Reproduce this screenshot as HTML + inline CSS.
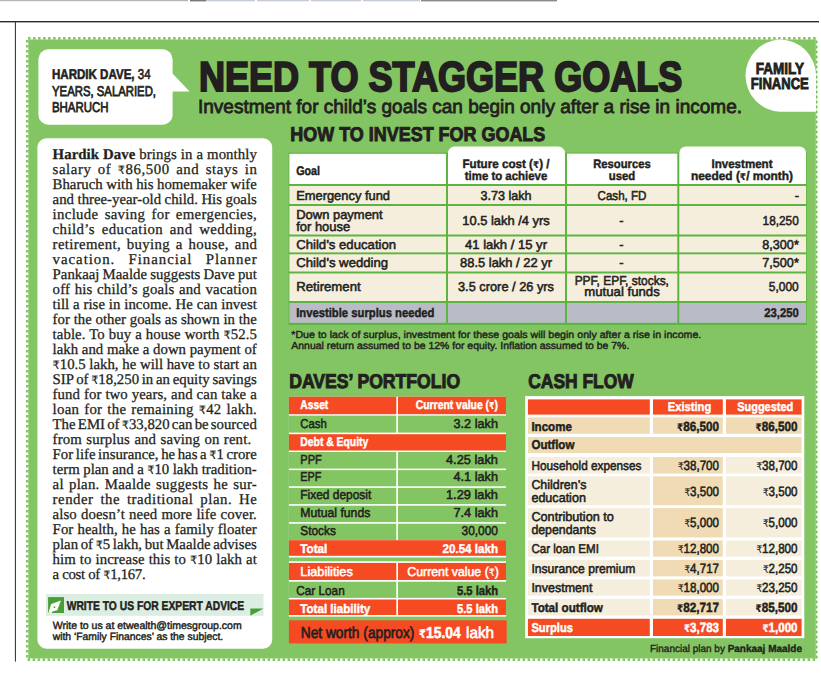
<!DOCTYPE html>
<html lang="en">
<head>
<meta charset="utf-8">
<title>Need to stagger goals</title>
<style>
html,body{margin:0;padding:0;background:#fff;}
body{width:821px;height:674px;overflow:hidden;}
svg{display:block;position:absolute;left:0;top:0;}
.ss{font-family:"Liberation Sans","DejaVu Sans",sans-serif;}
.sf{font-family:"Liberation Serif","DejaVu Serif",serif;}
.r{font-family:"DejaVu Sans",sans-serif;font-size:0.76em;stroke-width:0.15px;}
text{white-space:pre;}
</style>
</head>
<body>
<svg width="821" height="674" viewBox="0 0 821 674" text-rendering="geometricPrecision">
<rect x="0.00" y="0.00" width="188.00" height="1.20" fill="#b5b5b5"/>
<rect x="190.00" y="0.00" width="16.00" height="1.40" fill="#77777c"/>
<rect x="206.00" y="0.00" width="49.00" height="1.30" fill="#c3cad4"/>
<rect x="257.00" y="0.00" width="52.00" height="1.30" fill="#c3cad4"/>
<rect x="311.00" y="0.00" width="50.00" height="1.30" fill="#c3cad4"/>
<rect x="363.00" y="0.00" width="57.00" height="1.30" fill="#c3cad4"/>
<rect x="421.00" y="0.00" width="136.00" height="1.40" fill="#8a8a8a"/>
<rect x="0.00" y="21.00" width="819.00" height="1.40" fill="#2e282b"/>
<rect x="14.90" y="21.00" width="1.00" height="640.60" fill="#2e282b"/>
<path d="M815.6 38.3 H27.3 V659.7 H815.6" fill="none" stroke="#84C563" stroke-width="2.7" stroke-dasharray="2.5 2.5"/>
<path d="M815.4 39.5 L818.1 37.0 L815.8 39.5 L818.1 42.0 L815.8 44.5 L818.1 47.0 L815.8 49.5 L818.1 52.0 L815.8 54.5 L818.1 57.0 L815.8 59.5 L818.1 62.0 L815.8 64.5 L818.1 67.0 L815.8 69.5 L818.1 72.0 L815.8 74.5 L818.1 77.0 L815.8 79.5 L818.1 82.0 L815.8 84.5 L818.1 87.0 L815.8 89.5 L818.1 92.0 L815.8 94.5 L818.1 97.0 L815.8 99.5 L818.1 102.0 L815.8 104.5 L818.1 107.0 L815.8 109.5 L818.1 112.0 L815.8 114.5 L818.1 117.0 L815.8 119.5 L818.1 122.0 L815.8 124.5 L818.1 127.0 L815.8 129.5 L818.1 132.0 L815.8 134.5 L818.1 137.0 L815.8 139.5 L818.1 142.0 L815.8 144.5 L818.1 147.0 L815.8 149.5 L818.1 152.0 L815.8 154.5 L818.1 157.0 L815.8 159.5 L818.1 162.0 L815.8 164.5 L818.1 167.0 L815.8 169.5 L818.1 172.0 L815.8 174.5 L818.1 177.0 L815.8 179.5 L818.1 182.0 L815.8 184.5 L818.1 187.0 L815.8 189.5 L818.1 192.0 L815.8 194.5 L818.1 197.0 L815.8 199.5 L818.1 202.0 L815.8 204.5 L818.1 207.0 L815.8 209.5 L818.1 212.0 L815.8 214.5 L818.1 217.0 L815.8 219.5 L818.1 222.0 L815.8 224.5 L818.1 227.0 L815.8 229.5 L818.1 232.0 L815.8 234.5 L818.1 237.0 L815.8 239.5 L818.1 242.0 L815.8 244.5 L818.1 247.0 L815.8 249.5 L818.1 252.0 L815.8 254.5 L818.1 257.0 L815.8 259.5 L818.1 262.0 L815.8 264.5 L818.1 267.0 L815.8 269.5 L818.1 272.0 L815.8 274.5 L818.1 277.0 L815.8 279.5 L818.1 282.0 L815.8 284.5 L818.1 287.0 L815.8 289.5 L818.1 292.0 L815.8 294.5 L818.1 297.0 L815.8 299.5 L818.1 302.0 L815.8 304.5 L818.1 307.0 L815.8 309.5 L818.1 312.0 L815.8 314.5 L818.1 317.0 L815.8 319.5 L818.1 322.0 L815.8 324.5 L818.1 327.0 L815.8 329.5 L818.1 332.0 L815.8 334.5 L818.1 337.0 L815.8 339.5 L818.1 342.0 L815.8 344.5 L818.1 347.0 L815.8 349.5 L818.1 352.0 L815.8 354.5 L818.1 357.0 L815.8 359.5 L818.1 362.0 L815.8 364.5 L818.1 367.0 L815.8 369.5 L818.1 372.0 L815.8 374.5 L818.1 377.0 L815.8 379.5 L818.1 382.0 L815.8 384.5 L818.1 387.0 L815.8 389.5 L818.1 392.0 L815.8 394.5 L818.1 397.0 L815.8 399.5 L818.1 402.0 L815.8 404.5 L818.1 407.0 L815.8 409.5 L818.1 412.0 L815.8 414.5 L818.1 417.0 L815.8 419.5 L818.1 422.0 L815.8 424.5 L818.1 427.0 L815.8 429.5 L818.1 432.0 L815.8 434.5 L818.1 437.0 L815.8 439.5 L818.1 442.0 L815.8 444.5 L818.1 447.0 L815.8 449.5 L818.1 452.0 L815.8 454.5 L818.1 457.0 L815.8 459.5 L818.1 462.0 L815.8 464.5 L818.1 467.0 L815.8 469.5 L818.1 472.0 L815.8 474.5 L818.1 477.0 L815.8 479.5 L818.1 482.0 L815.8 484.5 L818.1 487.0 L815.8 489.5 L818.1 492.0 L815.8 494.5 L818.1 497.0 L815.8 499.5 L818.1 502.0 L815.8 504.5 L818.1 507.0 L815.8 509.5 L818.1 512.0 L815.8 514.5 L818.1 517.0 L815.8 519.5 L818.1 522.0 L815.8 524.5 L818.1 527.0 L815.8 529.5 L818.1 532.0 L815.8 534.5 L818.1 537.0 L815.8 539.5 L818.1 542.0 L815.8 544.5 L818.1 547.0 L815.8 549.5 L818.1 552.0 L815.8 554.5 L818.1 557.0 L815.8 559.5 L818.1 562.0 L815.8 564.5 L818.1 567.0 L815.8 569.5 L818.1 572.0 L815.8 574.5 L818.1 577.0 L815.8 579.5 L818.1 582.0 L815.8 584.5 L818.1 587.0 L815.8 589.5 L818.1 592.0 L815.8 594.5 L818.1 597.0 L815.8 599.5 L818.1 602.0 L815.8 604.5 L818.1 607.0 L815.8 609.5 L818.1 612.0 L815.8 614.5 L818.1 617.0 L815.8 619.5 L818.1 622.0 L815.8 624.5 L818.1 627.0 L815.8 629.5 L818.1 632.0 L815.8 634.5 L818.1 637.0 L815.8 639.5 L818.1 642.0 L815.8 644.5 L818.1 647.0 L815.8 649.5 L818.1 652.0 L815.8 654.5 L818.1 657.0 L815.8 659.5 L815.4 658.4 Z" fill="#84C563"/>
<rect x="28.40" y="39.50" width="787.20" height="618.90" fill="#84C563"/>
<rect x="38.40" y="49.30" width="134.20" height="75.50" fill="#fff" rx="10"/>
<path d="M172 73 L189.6 91.6 L172 91.6 Z" fill="#fff"/>
<text class="ss" x="52.00" y="79.00" font-size="14.2" text-anchor="start" textLength="98.60" lengthAdjust="spacingAndGlyphs" stroke-width="0.60"><tspan fill="#231f20" stroke="#231f20" font-weight="bold">HARDIK DAVE,</tspan><tspan fill="#231f20" stroke="#231f20" font-weight="normal"> 34</tspan></text>
<text class="ss" x="52.00" y="95.50" font-size="14.2" text-anchor="start" fill="#231f20" textLength="104.00" lengthAdjust="spacingAndGlyphs" stroke="#231f20" stroke-width="0.75">YEARS, SALARIED,</text>
<text class="ss" x="52.00" y="112.00" font-size="14.2" text-anchor="start" fill="#231f20" textLength="56.50" lengthAdjust="spacingAndGlyphs" stroke="#231f20" stroke-width="0.75">BHARUCH</text>
<text class="ss" x="198.90" y="91.20" font-size="41.9" text-anchor="start" fill="#231f20" font-weight="bold" textLength="483.50" lengthAdjust="spacingAndGlyphs" stroke="#231f20" stroke-width="2.00">NEED TO STAGGER GOALS</text>
<text class="ss" x="198.00" y="113.00" font-size="19.1" text-anchor="start" fill="#231f20" textLength="544.00" lengthAdjust="spacingAndGlyphs" stroke="#231f20" stroke-width="0.80">Investment for child’s goals can begin only after a rise in income.</text>
<path d="M779.8 39.4 A36.2 36.2 0 0 1 816 75.6 L816 111.7 L779.8 111.7 A36.2 36.2 0 0 1 779.8 39.4 Z" fill="#fff"/>
<text class="ss" x="779.80" y="73.60" font-size="16.0" text-anchor="middle" fill="#231f20" font-weight="bold" textLength="48.20" lengthAdjust="spacingAndGlyphs" stroke="#231f20" stroke-width="0.85">FAMILY</text>
<text class="ss" x="779.80" y="88.50" font-size="16.0" text-anchor="middle" fill="#231f20" font-weight="bold" textLength="58.00" lengthAdjust="spacingAndGlyphs" stroke="#231f20" stroke-width="0.85">FINANCE</text>
<text class="ss" x="290.30" y="141.00" font-size="19.9" text-anchor="start" fill="#231f20" font-weight="bold" textLength="255.00" lengthAdjust="spacingAndGlyphs" stroke="#231f20" stroke-width="0.95">HOW TO INVEST FOR GOALS</text>
<rect x="288.60" y="152.60" width="518.20" height="172.40" fill="#5CB540"/>
<rect x="289.40" y="153.80" width="156.60" height="30.20" fill="#fff"/>
<path d="M448 184 V153.2 a6.6 6.6 0 0 1 6.6 -6.6 H558.4 a6.6 6.6 0 0 1 6.6 6.6 V184 Z" fill="#fff"/>
<rect x="567.00" y="153.60" width="110.30" height="30.40" fill="#fff"/>
<path d="M679.3 184 V153 a6.6 6.6 0 0 1 6.6 -6.6 H799.4 a6.6 6.6 0 0 1 6.6 6.6 V184 Z" fill="#fff"/>
<rect x="289.40" y="186.00" width="156.60" height="18.00" fill="#F5EEDD"/>
<rect x="448.00" y="186.00" width="117.00" height="18.00" fill="#F5EEDD"/>
<rect x="567.00" y="186.00" width="110.30" height="18.00" fill="#F5EEDD"/>
<rect x="679.30" y="186.00" width="126.70" height="18.00" fill="#F5EEDD"/>
<rect x="289.40" y="206.00" width="156.60" height="28.50" fill="#F5EEDD"/>
<rect x="448.00" y="206.00" width="117.00" height="28.50" fill="#F5EEDD"/>
<rect x="567.00" y="206.00" width="110.30" height="28.50" fill="#F5EEDD"/>
<rect x="679.30" y="206.00" width="126.70" height="28.50" fill="#F5EEDD"/>
<rect x="289.40" y="236.50" width="156.60" height="15.90" fill="#F5EEDD"/>
<rect x="448.00" y="236.50" width="117.00" height="15.90" fill="#F5EEDD"/>
<rect x="567.00" y="236.50" width="110.30" height="15.90" fill="#F5EEDD"/>
<rect x="679.30" y="236.50" width="126.70" height="15.90" fill="#F5EEDD"/>
<rect x="289.40" y="254.30" width="156.60" height="17.20" fill="#F5EEDD"/>
<rect x="448.00" y="254.30" width="117.00" height="17.20" fill="#F5EEDD"/>
<rect x="567.00" y="254.30" width="110.30" height="17.20" fill="#F5EEDD"/>
<rect x="679.30" y="254.30" width="126.70" height="17.20" fill="#F5EEDD"/>
<rect x="289.40" y="273.50" width="156.60" height="27.50" fill="#F5EEDD"/>
<rect x="448.00" y="273.50" width="117.00" height="27.50" fill="#F5EEDD"/>
<rect x="567.00" y="273.50" width="110.30" height="27.50" fill="#F5EEDD"/>
<rect x="679.30" y="273.50" width="126.70" height="27.50" fill="#F5EEDD"/>
<rect x="289.40" y="303.00" width="156.60" height="19.80" fill="#B9BCC6"/>
<rect x="448.00" y="303.00" width="117.00" height="19.80" fill="#B9BCC6"/>
<rect x="567.00" y="303.00" width="110.30" height="19.80" fill="#B9BCC6"/>
<rect x="679.30" y="303.00" width="126.70" height="19.80" fill="#B9BCC6"/>
<text class="ss" x="296.20" y="174.50" font-size="12.5" text-anchor="start" fill="#231f20" font-weight="bold" textLength="23.90" lengthAdjust="spacingAndGlyphs" stroke="#231f20" stroke-width="0.45">Goal</text>
<text class="ss" x="506.00" y="168.20" font-size="12.3" text-anchor="middle" fill="#231f20" font-weight="bold" textLength="87.00" lengthAdjust="spacingAndGlyphs" stroke="#231f20" stroke-width="0.44">Future cost (<tspan class="r">₹</tspan>) /</text>
<text class="ss" x="506.00" y="180.00" font-size="12.3" text-anchor="middle" fill="#231f20" font-weight="bold" textLength="82.50" lengthAdjust="spacingAndGlyphs" stroke="#231f20" stroke-width="0.44">time to achieve</text>
<text class="ss" x="622.00" y="168.20" font-size="12.3" text-anchor="middle" fill="#231f20" font-weight="bold" textLength="57.50" lengthAdjust="spacingAndGlyphs" stroke="#231f20" stroke-width="0.44">Resources</text>
<text class="ss" x="622.00" y="180.00" font-size="12.3" text-anchor="middle" fill="#231f20" font-weight="bold" textLength="26.50" lengthAdjust="spacingAndGlyphs" stroke="#231f20" stroke-width="0.44">used</text>
<text class="ss" x="742.00" y="168.20" font-size="12.3" text-anchor="middle" fill="#231f20" font-weight="bold" textLength="61.00" lengthAdjust="spacingAndGlyphs" stroke="#231f20" stroke-width="0.44">Investment</text>
<text class="ss" x="742.00" y="180.00" font-size="12.3" text-anchor="middle" fill="#231f20" font-weight="bold" textLength="102.00" lengthAdjust="spacingAndGlyphs" stroke="#231f20" stroke-width="0.44">needed (<tspan class="r">₹</tspan>/ month)</text>
<text class="ss" x="296.20" y="200.30" font-size="12.9" text-anchor="start" fill="#231f20" textLength="93.80" lengthAdjust="spacingAndGlyphs" stroke="#231f20" stroke-width="0.54">Emergency fund</text>
<text class="ss" x="296.20" y="219.00" font-size="12.9" text-anchor="start" fill="#231f20" textLength="86.50" lengthAdjust="spacingAndGlyphs" stroke="#231f20" stroke-width="0.54">Down payment</text>
<text class="ss" x="296.20" y="230.50" font-size="12.9" text-anchor="start" fill="#231f20" textLength="54.00" lengthAdjust="spacingAndGlyphs" stroke="#231f20" stroke-width="0.54">for house</text>
<text class="ss" x="296.20" y="248.70" font-size="12.9" text-anchor="start" fill="#231f20" textLength="99.90" lengthAdjust="spacingAndGlyphs" stroke="#231f20" stroke-width="0.54">Child’s education</text>
<text class="ss" x="296.20" y="267.00" font-size="12.9" text-anchor="start" fill="#231f20" textLength="92.00" lengthAdjust="spacingAndGlyphs" stroke="#231f20" stroke-width="0.54">Child’s wedding</text>
<text class="ss" x="296.20" y="291.30" font-size="12.9" text-anchor="start" fill="#231f20" textLength="64.50" lengthAdjust="spacingAndGlyphs" stroke="#231f20" stroke-width="0.54">Retirement</text>
<text class="ss" x="296.20" y="317.00" font-size="12.6" text-anchor="start" fill="#231f20" font-weight="bold" textLength="138.30" lengthAdjust="spacingAndGlyphs" stroke="#231f20" stroke-width="0.45">Investible surplus needed</text>
<text class="ss" x="506.00" y="200.10" font-size="12.9" text-anchor="middle" fill="#231f20" textLength="51.00" lengthAdjust="spacingAndGlyphs" stroke="#231f20" stroke-width="0.54">3.73 lakh</text>
<text class="ss" x="506.00" y="225.10" font-size="12.9" text-anchor="middle" fill="#231f20" textLength="87.40" lengthAdjust="spacingAndGlyphs" stroke="#231f20" stroke-width="0.54">10.5 lakh /4 yrs</text>
<text class="ss" x="506.00" y="248.70" font-size="12.9" text-anchor="middle" fill="#231f20" textLength="82.00" lengthAdjust="spacingAndGlyphs" stroke="#231f20" stroke-width="0.54">41 lakh / 15 yr</text>
<text class="ss" x="506.00" y="267.00" font-size="12.9" text-anchor="middle" fill="#231f20" textLength="92.00" lengthAdjust="spacingAndGlyphs" stroke="#231f20" stroke-width="0.54">88.5 lakh / 22 yr</text>
<text class="ss" x="506.00" y="291.40" font-size="12.9" text-anchor="middle" fill="#231f20" textLength="96.00" lengthAdjust="spacingAndGlyphs" stroke="#231f20" stroke-width="0.54">3.5 crore / 26 yrs</text>
<text class="ss" x="622.00" y="200.10" font-size="12.9" text-anchor="middle" fill="#231f20" textLength="49.00" lengthAdjust="spacingAndGlyphs" stroke="#231f20" stroke-width="0.54">Cash, FD</text>
<text class="ss" x="621.30" y="225.10" font-size="12.9" text-anchor="middle" fill="#231f20" stroke="#231f20" stroke-width="0.54">-</text>
<text class="ss" x="621.30" y="248.70" font-size="12.9" text-anchor="middle" fill="#231f20" stroke="#231f20" stroke-width="0.54">-</text>
<text class="ss" x="621.30" y="267.00" font-size="12.9" text-anchor="middle" fill="#231f20" stroke="#231f20" stroke-width="0.54">-</text>
<text class="ss" x="621.80" y="285.30" font-size="12.9" text-anchor="middle" fill="#231f20" textLength="94.30" lengthAdjust="spacingAndGlyphs" stroke="#231f20" stroke-width="0.54">PPF, EPF, stocks,</text>
<text class="ss" x="622.00" y="295.80" font-size="12.9" text-anchor="middle" fill="#231f20" textLength="75.50" lengthAdjust="spacingAndGlyphs" stroke="#231f20" stroke-width="0.54">mutual funds</text>
<text class="ss" x="799.00" y="200.10" font-size="12.9" text-anchor="end" fill="#231f20" stroke="#231f20" stroke-width="0.54">-</text>
<text class="ss" x="798.80" y="225.10" font-size="12.9" text-anchor="end" fill="#231f20" textLength="36.20" lengthAdjust="spacingAndGlyphs" stroke="#231f20" stroke-width="0.54">18,250</text>
<text class="ss" x="798.80" y="248.70" font-size="12.9" text-anchor="end" fill="#231f20" textLength="36.50" lengthAdjust="spacingAndGlyphs" stroke="#231f20" stroke-width="0.54">8,300*</text>
<text class="ss" x="798.80" y="267.00" font-size="12.9" text-anchor="end" fill="#231f20" textLength="36.50" lengthAdjust="spacingAndGlyphs" stroke="#231f20" stroke-width="0.54">7,500*</text>
<text class="ss" x="798.80" y="291.40" font-size="12.9" text-anchor="end" fill="#231f20" textLength="30.00" lengthAdjust="spacingAndGlyphs" stroke="#231f20" stroke-width="0.54">5,000</text>
<text class="ss" x="798.80" y="317.00" font-size="12.6" text-anchor="end" fill="#231f20" font-weight="bold" textLength="34.50" lengthAdjust="spacingAndGlyphs" stroke="#231f20" stroke-width="0.45">23,250</text>
<text class="ss" x="291.30" y="338.00" font-size="10.2" text-anchor="start" fill="#231f20" textLength="410.00" lengthAdjust="spacingAndGlyphs" stroke="#231f20" stroke-width="0.43">*Due to lack of surplus, investment for these goals will begin only after a rise in income.</text>
<text class="ss" x="291.30" y="348.60" font-size="10.2" text-anchor="start" fill="#231f20" textLength="338.00" lengthAdjust="spacingAndGlyphs" stroke="#231f20" stroke-width="0.43">Annual return assumed to be 12% for equity. Inflation assumed to be 7%.</text>
<text class="ss" x="289.20" y="387.60" font-size="19.9" text-anchor="start" fill="#231f20" font-weight="bold" textLength="171.00" lengthAdjust="spacingAndGlyphs" stroke="#231f20" stroke-width="0.95">DAVES’ PORTFOLIO</text>
<rect x="288.90" y="396.70" width="217.10" height="160.80" fill="#fff"/>
<rect x="288.90" y="396.70" width="107.40" height="17.50" fill="#F54A22"/>
<rect x="398.00" y="396.70" width="108.00" height="17.50" fill="#F54A22"/>
<rect x="288.90" y="415.60" width="107.40" height="17.00" fill="#84C563"/>
<rect x="398.00" y="415.60" width="108.00" height="17.00" fill="#84C563"/>
<rect x="288.90" y="434.20" width="217.10" height="16.30" fill="#F54A22"/>
<rect x="288.90" y="452.00" width="107.40" height="16.60" fill="#84C563"/>
<rect x="398.00" y="452.00" width="108.00" height="16.60" fill="#84C563"/>
<rect x="288.90" y="470.10" width="107.40" height="16.20" fill="#84C563"/>
<rect x="398.00" y="470.10" width="108.00" height="16.20" fill="#84C563"/>
<rect x="288.90" y="487.90" width="107.40" height="16.20" fill="#84C563"/>
<rect x="398.00" y="487.90" width="108.00" height="16.20" fill="#84C563"/>
<rect x="288.90" y="505.70" width="107.40" height="16.40" fill="#84C563"/>
<rect x="398.00" y="505.70" width="108.00" height="16.40" fill="#84C563"/>
<rect x="288.90" y="523.70" width="107.40" height="16.50" fill="#84C563"/>
<rect x="398.00" y="523.70" width="108.00" height="16.50" fill="#84C563"/>
<rect x="288.90" y="540.20" width="217.10" height="15.60" fill="#F54A22"/>
<rect x="288.90" y="561.30" width="217.10" height="55.30" fill="#fff"/>
<rect x="288.90" y="562.90" width="107.40" height="17.10" fill="#F54A22"/>
<rect x="398.00" y="562.90" width="108.00" height="17.10" fill="#F54A22"/>
<rect x="288.90" y="581.70" width="107.40" height="16.20" fill="#84C563"/>
<rect x="398.00" y="581.70" width="108.00" height="16.20" fill="#84C563"/>
<rect x="288.90" y="599.50" width="107.40" height="15.50" fill="#F54A22"/>
<rect x="398.00" y="599.50" width="108.00" height="15.50" fill="#F54A22"/>
<rect x="288.90" y="620.30" width="217.80" height="23.10" fill="#F54A22"/>
<text class="ss" x="300.30" y="409.30" font-size="12.6" text-anchor="start" fill="#fff" font-weight="bold" textLength="28.00" lengthAdjust="spacingAndGlyphs" stroke="#fff" stroke-width="0.45">Asset</text>
<text class="ss" x="498.00" y="409.30" font-size="12.6" text-anchor="end" fill="#fff" font-weight="bold" textLength="82.30" lengthAdjust="spacingAndGlyphs" stroke="#fff" stroke-width="0.45">Current value (<tspan class="r">₹</tspan>)</text>
<text class="ss" x="300.30" y="427.60" font-size="12.9" text-anchor="start" fill="#231f20" textLength="26.50" lengthAdjust="spacingAndGlyphs" stroke="#231f20" stroke-width="0.54">Cash</text>
<text class="ss" x="498.00" y="427.60" font-size="12.9" text-anchor="end" fill="#231f20" textLength="44.50" lengthAdjust="spacingAndGlyphs" stroke="#231f20" stroke-width="0.54">3.2 lakh</text>
<text class="ss" x="300.30" y="446.30" font-size="12.6" text-anchor="start" fill="#fff" font-weight="bold" textLength="68.00" lengthAdjust="spacingAndGlyphs" stroke="#fff" stroke-width="0.45">Debt &amp; Equity</text>
<text class="ss" x="300.30" y="463.50" font-size="12.9" text-anchor="start" fill="#231f20" textLength="21.50" lengthAdjust="spacingAndGlyphs" stroke="#231f20" stroke-width="0.54">PPF</text>
<text class="ss" x="498.00" y="463.50" font-size="12.9" text-anchor="end" fill="#231f20" textLength="52.00" lengthAdjust="spacingAndGlyphs" stroke="#231f20" stroke-width="0.54">4.25 lakh</text>
<text class="ss" x="300.30" y="481.30" font-size="12.9" text-anchor="start" fill="#231f20" textLength="21.00" lengthAdjust="spacingAndGlyphs" stroke="#231f20" stroke-width="0.54">EPF</text>
<text class="ss" x="498.00" y="481.30" font-size="12.9" text-anchor="end" fill="#231f20" textLength="44.50" lengthAdjust="spacingAndGlyphs" stroke="#231f20" stroke-width="0.54">4.1 lakh</text>
<text class="ss" x="300.30" y="498.90" font-size="12.9" text-anchor="start" fill="#231f20" textLength="71.00" lengthAdjust="spacingAndGlyphs" stroke="#231f20" stroke-width="0.54">Fixed deposit</text>
<text class="ss" x="498.00" y="498.90" font-size="12.9" text-anchor="end" fill="#231f20" textLength="52.00" lengthAdjust="spacingAndGlyphs" stroke="#231f20" stroke-width="0.54">1.29 lakh</text>
<text class="ss" x="300.30" y="517.20" font-size="12.9" text-anchor="start" fill="#231f20" textLength="70.00" lengthAdjust="spacingAndGlyphs" stroke="#231f20" stroke-width="0.54">Mutual funds</text>
<text class="ss" x="498.00" y="517.20" font-size="12.9" text-anchor="end" fill="#231f20" textLength="44.50" lengthAdjust="spacingAndGlyphs" stroke="#231f20" stroke-width="0.54">7.4 lakh</text>
<text class="ss" x="300.30" y="535.00" font-size="12.9" text-anchor="start" fill="#231f20" textLength="35.50" lengthAdjust="spacingAndGlyphs" stroke="#231f20" stroke-width="0.54">Stocks</text>
<text class="ss" x="498.00" y="535.00" font-size="12.9" text-anchor="end" fill="#231f20" textLength="36.50" lengthAdjust="spacingAndGlyphs" stroke="#231f20" stroke-width="0.54">30,000</text>
<text class="ss" x="300.30" y="552.50" font-size="12.6" text-anchor="start" fill="#fff" font-weight="bold" textLength="27.00" lengthAdjust="spacingAndGlyphs" stroke="#fff" stroke-width="0.45">Total</text>
<text class="ss" x="498.00" y="552.50" font-size="12.6" text-anchor="end" fill="#fff" font-weight="bold" textLength="55.50" lengthAdjust="spacingAndGlyphs" stroke="#fff" stroke-width="0.45">20.54 lakh</text>
<text class="ss" x="300.30" y="576.00" font-size="12.9" text-anchor="start" fill="#fff" textLength="52.50" lengthAdjust="spacingAndGlyphs" stroke="#fff" stroke-width="0.54">Liabilities</text>
<text class="ss" x="498.80" y="576.00" font-size="12.9" text-anchor="end" fill="#fff" textLength="91.50" lengthAdjust="spacingAndGlyphs" stroke="#fff" stroke-width="0.54">Current value (<tspan class="r">₹</tspan>)</text>
<text class="ss" x="296.20" y="594.70" font-size="12.9" text-anchor="start" fill="#231f20" textLength="48.50" lengthAdjust="spacingAndGlyphs" stroke="#231f20" stroke-width="0.54">Car Loan</text>
<text class="ss" x="498.00" y="594.70" font-size="12.9" text-anchor="end" fill="#231f20" font-weight="bold" textLength="41.00" lengthAdjust="spacingAndGlyphs" stroke="#231f20" stroke-width="0.46">5.5 lakh</text>
<text class="ss" x="300.30" y="612.50" font-size="12.6" text-anchor="start" fill="#fff" font-weight="bold" textLength="70.00" lengthAdjust="spacingAndGlyphs" stroke="#fff" stroke-width="0.45">Total liability</text>
<text class="ss" x="498.00" y="612.50" font-size="12.6" text-anchor="end" fill="#fff" font-weight="bold" textLength="41.00" lengthAdjust="spacingAndGlyphs" stroke="#fff" stroke-width="0.45">5.5 lakh</text>
<text class="ss" x="300.80" y="638.10" font-size="15.8" text-anchor="start" fill="#231f20" textLength="113.60" lengthAdjust="spacingAndGlyphs" stroke="#231f20" stroke-width="0.66">Net worth (approx)</text>
<text class="ss" x="418.80" y="638.10" font-size="15.8" text-anchor="start" fill="#fff" font-weight="bold" textLength="41.80" lengthAdjust="spacingAndGlyphs" stroke="#fff" stroke-width="0.57"><tspan class="r">₹</tspan>15.04</text>
<text class="ss" x="466.00" y="638.10" font-size="15.8" text-anchor="start" fill="#fff" textLength="28.00" lengthAdjust="spacingAndGlyphs" stroke="#fff" stroke-width="0.66">lakh</text>
<text class="ss" x="528.20" y="387.60" font-size="19.9" text-anchor="start" fill="#231f20" font-weight="bold" textLength="105.60" lengthAdjust="spacingAndGlyphs" stroke="#231f20" stroke-width="0.95">CASH FLOW</text>
<rect x="525.20" y="396.10" width="279.10" height="242.10" fill="#fff"/>
<rect x="527.90" y="399.40" width="121.90" height="15.20" fill="#F54A22"/>
<rect x="653.00" y="399.40" width="69.80" height="15.20" fill="#F54A22"/>
<rect x="726.00" y="399.40" width="75.60" height="15.20" fill="#F54A22"/>
<rect x="527.90" y="417.40" width="121.90" height="16.40" fill="#F0DBB5"/>
<rect x="653.00" y="417.40" width="69.80" height="16.40" fill="#F0DBB5"/>
<rect x="726.00" y="417.40" width="75.60" height="16.40" fill="#F0DBB5"/>
<rect x="527.90" y="437.00" width="273.70" height="16.10" fill="#F0DBB5"/>
<rect x="527.90" y="457.00" width="121.90" height="16.60" fill="#F5EEDD"/>
<rect x="653.00" y="457.00" width="69.80" height="16.60" fill="#F0DBB5"/>
<rect x="726.00" y="457.00" width="75.60" height="16.60" fill="#F5EEDD"/>
<rect x="527.90" y="476.30" width="121.90" height="28.90" fill="#F5EEDD"/>
<rect x="653.00" y="476.30" width="69.80" height="28.90" fill="#F0DBB5"/>
<rect x="726.00" y="476.30" width="75.60" height="28.90" fill="#F5EEDD"/>
<rect x="527.90" y="508.10" width="121.90" height="29.40" fill="#F5EEDD"/>
<rect x="653.00" y="508.10" width="69.80" height="29.40" fill="#F0DBB5"/>
<rect x="726.00" y="508.10" width="75.60" height="29.40" fill="#F5EEDD"/>
<rect x="527.90" y="540.50" width="121.90" height="16.20" fill="#F5EEDD"/>
<rect x="653.00" y="540.50" width="69.80" height="16.20" fill="#F0DBB5"/>
<rect x="726.00" y="540.50" width="75.60" height="16.20" fill="#F5EEDD"/>
<rect x="527.90" y="560.00" width="121.90" height="16.40" fill="#F5EEDD"/>
<rect x="653.00" y="560.00" width="69.80" height="16.40" fill="#F0DBB5"/>
<rect x="726.00" y="560.00" width="75.60" height="16.40" fill="#F5EEDD"/>
<rect x="527.90" y="579.40" width="121.90" height="16.30" fill="#F5EEDD"/>
<rect x="653.00" y="579.40" width="69.80" height="16.30" fill="#F0DBB5"/>
<rect x="726.00" y="579.40" width="75.60" height="16.30" fill="#F5EEDD"/>
<rect x="527.90" y="599.00" width="121.90" height="16.40" fill="#F5EEDD"/>
<rect x="653.00" y="599.00" width="69.80" height="16.40" fill="#F0DBB5"/>
<rect x="726.00" y="599.00" width="75.60" height="16.40" fill="#F5EEDD"/>
<rect x="527.90" y="618.80" width="121.90" height="17.20" fill="#F54A22"/>
<rect x="653.00" y="618.80" width="69.80" height="17.20" fill="#F54A22"/>
<rect x="726.00" y="618.80" width="75.60" height="17.20" fill="#F54A22"/>
<text class="ss" x="689.50" y="411.30" font-size="12.6" text-anchor="middle" fill="#fff" font-weight="bold" textLength="43.50" lengthAdjust="spacingAndGlyphs" stroke="#fff" stroke-width="0.45">Existing</text>
<text class="ss" x="765.20" y="411.30" font-size="12.6" text-anchor="middle" fill="#fff" font-weight="bold" textLength="56.00" lengthAdjust="spacingAndGlyphs" stroke="#fff" stroke-width="0.45">Suggested</text>
<text class="ss" x="531.40" y="431.00" font-size="12.8" text-anchor="start" fill="#231f20" font-weight="bold" textLength="40.50" lengthAdjust="spacingAndGlyphs" stroke="#231f20" stroke-width="0.46">Income</text>
<text class="ss" x="719.00" y="431.00" font-size="13.4" text-anchor="end" fill="#231f20" font-weight="bold" textLength="42.00" lengthAdjust="spacingAndGlyphs" stroke="#231f20" stroke-width="0.48"><tspan class="r">₹</tspan>86,500</text>
<text class="ss" x="797.50" y="431.00" font-size="13.4" text-anchor="end" fill="#231f20" font-weight="bold" textLength="42.00" lengthAdjust="spacingAndGlyphs" stroke="#231f20" stroke-width="0.48"><tspan class="r">₹</tspan>86,500</text>
<text class="ss" x="531.40" y="449.30" font-size="12.8" text-anchor="start" fill="#231f20" font-weight="bold" textLength="43.00" lengthAdjust="spacingAndGlyphs" stroke="#231f20" stroke-width="0.46">Outflow</text>
<text class="ss" x="531.40" y="470.20" font-size="12.8" text-anchor="start" fill="#231f20" textLength="110.00" lengthAdjust="spacingAndGlyphs" stroke="#231f20" stroke-width="0.54">Household expenses</text>
<text class="ss" x="719.00" y="470.20" font-size="13.4" text-anchor="end" fill="#231f20" textLength="41.00" lengthAdjust="spacingAndGlyphs" stroke="#231f20" stroke-width="0.56"><tspan class="r">₹</tspan>38,700</text>
<text class="ss" x="797.50" y="470.20" font-size="13.4" text-anchor="end" fill="#231f20" textLength="41.00" lengthAdjust="spacingAndGlyphs" stroke="#231f20" stroke-width="0.56"><tspan class="r">₹</tspan>38,700</text>
<text class="ss" x="531.40" y="489.00" font-size="12.8" text-anchor="start" fill="#231f20" textLength="55.00" lengthAdjust="spacingAndGlyphs" stroke="#231f20" stroke-width="0.54">Children’s</text>
<text class="ss" x="531.40" y="502.00" font-size="12.8" text-anchor="start" fill="#231f20" textLength="54.50" lengthAdjust="spacingAndGlyphs" stroke="#231f20" stroke-width="0.54">education</text>
<text class="ss" x="719.00" y="495.50" font-size="13.4" text-anchor="end" fill="#231f20" textLength="34.50" lengthAdjust="spacingAndGlyphs" stroke="#231f20" stroke-width="0.56"><tspan class="r">₹</tspan>3,500</text>
<text class="ss" x="797.50" y="495.50" font-size="13.4" text-anchor="end" fill="#231f20" textLength="34.50" lengthAdjust="spacingAndGlyphs" stroke="#231f20" stroke-width="0.56"><tspan class="r">₹</tspan>3,500</text>
<text class="ss" x="531.40" y="520.60" font-size="12.8" text-anchor="start" fill="#231f20" textLength="82.50" lengthAdjust="spacingAndGlyphs" stroke="#231f20" stroke-width="0.54">Contribution to</text>
<text class="ss" x="531.40" y="533.80" font-size="12.8" text-anchor="start" fill="#231f20" textLength="64.50" lengthAdjust="spacingAndGlyphs" stroke="#231f20" stroke-width="0.54">dependants</text>
<text class="ss" x="719.00" y="527.40" font-size="13.4" text-anchor="end" fill="#231f20" textLength="34.50" lengthAdjust="spacingAndGlyphs" stroke="#231f20" stroke-width="0.56"><tspan class="r">₹</tspan>5,000</text>
<text class="ss" x="797.50" y="527.40" font-size="13.4" text-anchor="end" fill="#231f20" textLength="34.50" lengthAdjust="spacingAndGlyphs" stroke="#231f20" stroke-width="0.56"><tspan class="r">₹</tspan>5,000</text>
<text class="ss" x="531.40" y="553.00" font-size="12.8" text-anchor="start" fill="#231f20" textLength="67.50" lengthAdjust="spacingAndGlyphs" stroke="#231f20" stroke-width="0.54">Car loan EMI</text>
<text class="ss" x="719.00" y="553.00" font-size="13.4" text-anchor="end" fill="#231f20" textLength="41.00" lengthAdjust="spacingAndGlyphs" stroke="#231f20" stroke-width="0.56"><tspan class="r">₹</tspan>12,800</text>
<text class="ss" x="797.50" y="553.00" font-size="13.4" text-anchor="end" fill="#231f20" textLength="41.00" lengthAdjust="spacingAndGlyphs" stroke="#231f20" stroke-width="0.56"><tspan class="r">₹</tspan>12,800</text>
<text class="ss" x="531.40" y="572.80" font-size="12.8" text-anchor="start" fill="#231f20" textLength="104.00" lengthAdjust="spacingAndGlyphs" stroke="#231f20" stroke-width="0.54">Insurance premium</text>
<text class="ss" x="719.00" y="572.80" font-size="13.4" text-anchor="end" fill="#231f20" textLength="34.50" lengthAdjust="spacingAndGlyphs" stroke="#231f20" stroke-width="0.56"><tspan class="r">₹</tspan>4,717</text>
<text class="ss" x="797.50" y="572.80" font-size="13.4" text-anchor="end" fill="#231f20" textLength="34.50" lengthAdjust="spacingAndGlyphs" stroke="#231f20" stroke-width="0.56"><tspan class="r">₹</tspan>2,250</text>
<text class="ss" x="531.40" y="592.00" font-size="12.8" text-anchor="start" fill="#231f20" textLength="61.00" lengthAdjust="spacingAndGlyphs" stroke="#231f20" stroke-width="0.54">Investment</text>
<text class="ss" x="719.00" y="592.00" font-size="13.4" text-anchor="end" fill="#231f20" textLength="41.00" lengthAdjust="spacingAndGlyphs" stroke="#231f20" stroke-width="0.56"><tspan class="r">₹</tspan>18,000</text>
<text class="ss" x="797.50" y="592.00" font-size="13.4" text-anchor="end" fill="#231f20" textLength="41.00" lengthAdjust="spacingAndGlyphs" stroke="#231f20" stroke-width="0.56"><tspan class="r">₹</tspan>23,250</text>
<text class="ss" x="531.40" y="611.80" font-size="12.8" text-anchor="start" fill="#231f20" font-weight="bold" textLength="71.50" lengthAdjust="spacingAndGlyphs" stroke="#231f20" stroke-width="0.46">Total outflow</text>
<text class="ss" x="719.00" y="611.80" font-size="13.4" text-anchor="end" fill="#231f20" font-weight="bold" textLength="42.00" lengthAdjust="spacingAndGlyphs" stroke="#231f20" stroke-width="0.48"><tspan class="r">₹</tspan>82,717</text>
<text class="ss" x="797.50" y="611.80" font-size="13.4" text-anchor="end" fill="#231f20" font-weight="bold" textLength="42.00" lengthAdjust="spacingAndGlyphs" stroke="#231f20" stroke-width="0.48"><tspan class="r">₹</tspan>85,500</text>
<text class="ss" x="531.40" y="632.00" font-size="12.8" text-anchor="start" fill="#fff" font-weight="bold" textLength="41.50" lengthAdjust="spacingAndGlyphs" stroke="#fff" stroke-width="0.46">Surplus</text>
<text class="ss" x="719.00" y="632.00" font-size="13.4" text-anchor="end" fill="#fff" font-weight="bold" textLength="35.00" lengthAdjust="spacingAndGlyphs" stroke="#fff" stroke-width="0.48"><tspan class="r">₹</tspan>3,783</text>
<text class="ss" x="797.50" y="632.00" font-size="13.4" text-anchor="end" fill="#fff" font-weight="bold" textLength="35.00" lengthAdjust="spacingAndGlyphs" stroke="#fff" stroke-width="0.48"><tspan class="r">₹</tspan>1,000</text>
<text class="ss" x="802.00" y="651.70" font-size="10.3" text-anchor="end" textLength="152.00" lengthAdjust="spacingAndGlyphs" stroke-width="0.37"><tspan fill="#231f20" stroke="#231f20" font-weight="normal">Financial plan by </tspan><tspan fill="#231f20" stroke="#231f20" font-weight="bold">Pankaaj Maalde</tspan></text>
<rect x="37.40" y="138.30" width="234.80" height="510.40" fill="#fff" rx="9"/>
<text class="sf" x="52.60" y="159.45" font-size="14.8" text-anchor="start" textLength="204.20" lengthAdjust="spacing" word-spacing="0.25" stroke-width="0.28"><tspan fill="#231f20" stroke="#231f20" font-weight="bold">Hardik Dave</tspan><tspan fill="#231f20" stroke="#231f20" font-weight="normal"> brings in a monthly</tspan></text>
<text class="sf" x="52.60" y="174.42" font-size="14.8" text-anchor="start" fill="#231f20" textLength="204.20" lengthAdjust="spacing" word-spacing="2.22" stroke="#231f20" stroke-width="0.28">salary of <tspan class="r">₹</tspan>86,500 and stays in</text>
<text class="sf" x="52.60" y="189.40" font-size="14.8" text-anchor="start" fill="#231f20" textLength="204.20" lengthAdjust="spacing" word-spacing="-0.12" stroke="#231f20" stroke-width="0.28">Bharuch with his homemaker wife</text>
<text class="sf" x="52.60" y="204.38" font-size="14.8" text-anchor="start" fill="#231f20" textLength="204.20" lengthAdjust="spacing" word-spacing="-0.14" stroke="#231f20" stroke-width="0.28">and three-year-old child. His goals</text>
<text class="sf" x="52.60" y="219.35" font-size="14.8" text-anchor="start" fill="#231f20" textLength="204.20" lengthAdjust="spacing" word-spacing="2.17" stroke="#231f20" stroke-width="0.28">include saving for emergencies,</text>
<text class="sf" x="52.60" y="234.32" font-size="14.8" text-anchor="start" fill="#231f20" textLength="204.20" lengthAdjust="spacing" word-spacing="2.68" stroke="#231f20" stroke-width="0.28">child’s education and wedding,</text>
<text class="sf" x="52.60" y="249.30" font-size="14.8" text-anchor="start" fill="#231f20" textLength="204.20" lengthAdjust="spacing" word-spacing="1.76" stroke="#231f20" stroke-width="0.28">retirement, buying a house, and</text>
<text class="sf" x="52.60" y="264.27" font-size="14.8" text-anchor="start" fill="#231f20" textLength="204.20" lengthAdjust="spacing" word-spacing="8.54" stroke="#231f20" stroke-width="0.28">vacation. Financial Planner</text>
<text class="sf" x="52.60" y="279.25" font-size="14.8" text-anchor="start" fill="#231f20" textLength="204.20" lengthAdjust="spacing" word-spacing="-0.53" stroke="#231f20" stroke-width="0.28">Pankaaj Maalde suggests Dave put</text>
<text class="sf" x="52.60" y="294.23" font-size="14.8" text-anchor="start" fill="#231f20" textLength="204.20" lengthAdjust="spacing" word-spacing="0.74" stroke="#231f20" stroke-width="0.28">off his child’s goals and vacation</text>
<text class="sf" x="52.60" y="309.20" font-size="14.8" text-anchor="start" fill="#231f20" textLength="204.20" lengthAdjust="spacing" word-spacing="0.11" stroke="#231f20" stroke-width="0.28">till a rise in income. He can invest</text>
<text class="sf" x="52.60" y="324.17" font-size="14.8" text-anchor="start" fill="#231f20" textLength="204.20" lengthAdjust="spacing" word-spacing="0.04" stroke="#231f20" stroke-width="0.28">for the other goals as shown in the</text>
<text class="sf" x="52.60" y="339.15" font-size="14.8" text-anchor="start" fill="#231f20" textLength="204.20" lengthAdjust="spacing" word-spacing="0.23" stroke="#231f20" stroke-width="0.28">table. To buy a house worth <tspan class="r">₹</tspan>52.5</text>
<text class="sf" x="52.60" y="354.12" font-size="14.8" text-anchor="start" fill="#231f20" textLength="204.20" lengthAdjust="spacing" word-spacing="0.02" stroke="#231f20" stroke-width="0.28">lakh and make a down payment of</text>
<text class="sf" x="52.60" y="369.10" font-size="14.8" text-anchor="start" fill="#231f20" textLength="204.20" lengthAdjust="spacing" word-spacing="0.01" stroke="#231f20" stroke-width="0.28"><tspan class="r">₹</tspan>10.5 lakh, he will have to start an</text>
<text class="sf" x="52.60" y="384.07" font-size="14.8" text-anchor="start" fill="#231f20" textLength="204.20" lengthAdjust="spacing" word-spacing="-0.98" stroke="#231f20" stroke-width="0.28">SIP of <tspan class="r">₹</tspan>18,250 in an equity savings</text>
<text class="sf" x="52.60" y="399.05" font-size="14.8" text-anchor="start" fill="#231f20" textLength="204.20" lengthAdjust="spacing" word-spacing="0.21" stroke="#231f20" stroke-width="0.28">fund for two years, and can take a</text>
<text class="sf" x="52.60" y="414.02" font-size="14.8" text-anchor="start" fill="#231f20" textLength="204.20" lengthAdjust="spacing" word-spacing="1.10" stroke="#231f20" stroke-width="0.28">loan for the remaining <tspan class="r">₹</tspan>42 lakh.</text>
<text class="sf" x="52.60" y="429.00" font-size="14.8" text-anchor="start" fill="#231f20" textLength="204.20" lengthAdjust="spacing" word-spacing="-1.40" stroke="#231f20" stroke-width="0.28">The EMI of <tspan class="r">₹</tspan>33,820 can be sourced</text>
<text class="sf" x="52.60" y="443.97" font-size="14.8" text-anchor="start" fill="#231f20" textLength="198.50" lengthAdjust="spacing" word-spacing="0.56" stroke="#231f20" stroke-width="0.28">from surplus and saving on rent.</text>
<text class="sf" x="52.60" y="458.95" font-size="14.8" text-anchor="start" fill="#231f20" textLength="204.20" lengthAdjust="spacing" word-spacing="-1.09" stroke="#231f20" stroke-width="0.28">For life insurance, he has a <tspan class="r">₹</tspan>1 crore</text>
<text class="sf" x="52.60" y="473.92" font-size="14.8" text-anchor="start" fill="#231f20" textLength="204.20" lengthAdjust="spacing" word-spacing="-0.17" stroke="#231f20" stroke-width="0.28">term plan and a <tspan class="r">₹</tspan>10 lakh tradition-</text>
<text class="sf" x="52.60" y="488.90" font-size="14.8" text-anchor="start" fill="#231f20" textLength="204.20" lengthAdjust="spacing" word-spacing="1.17" stroke="#231f20" stroke-width="0.28">al plan. Maalde suggests he sur-</text>
<text class="sf" x="52.60" y="503.88" font-size="14.8" text-anchor="start" fill="#231f20" textLength="204.20" lengthAdjust="spacing" word-spacing="2.63" stroke="#231f20" stroke-width="0.28">render the traditional plan. He</text>
<text class="sf" x="52.60" y="518.85" font-size="14.8" text-anchor="start" fill="#231f20" textLength="204.20" lengthAdjust="spacing" word-spacing="0.38" stroke="#231f20" stroke-width="0.28">also doesn’t need more life cover.</text>
<text class="sf" x="52.60" y="533.83" font-size="14.8" text-anchor="start" fill="#231f20" textLength="204.20" lengthAdjust="spacing" word-spacing="0.27" stroke="#231f20" stroke-width="0.28">For health, he has a family floater</text>
<text class="sf" x="52.60" y="548.80" font-size="14.8" text-anchor="start" fill="#231f20" textLength="204.20" lengthAdjust="spacing" word-spacing="-1.07" stroke="#231f20" stroke-width="0.28">plan of <tspan class="r">₹</tspan>5 lakh, but Maalde advises</text>
<text class="sf" x="52.60" y="563.77" font-size="14.8" text-anchor="start" fill="#231f20" textLength="204.20" lengthAdjust="spacing" word-spacing="0.24" stroke="#231f20" stroke-width="0.28">him to increase this to <tspan class="r">₹</tspan>10 lakh at</text>
<text class="sf" x="52.60" y="578.75" font-size="14.8" text-anchor="start" fill="#231f20" textLength="93.00" lengthAdjust="spacing" stroke="#231f20" stroke-width="0.28">a cost of <tspan class="r">₹</tspan>1,167.</text>
<rect x="46.00" y="594.00" width="217.50" height="21.80" fill="#DCEDE2"/>
<rect x="48.10" y="597.10" width="15.90" height="15.90" fill="#4A9E3A"/>
<path d="M60.9 600.4 L51.2 603.9 L48.9 611.2 L48.2 612.8 L51.4 612.9 L53 611.2 L57.3 610.3 Z" fill="#fff"/>
<circle cx="54.5" cy="607.2" r="0.85" fill="#4A9E3A"/>
<path d="M250.3 608.4 H263.5 L250.3 615.8 Z" fill="#4A9E3A"/>
<text class="ss" x="66.70" y="610.10" font-size="12.6" text-anchor="start" fill="#231f20" font-weight="bold" textLength="177.50" lengthAdjust="spacingAndGlyphs" stroke="#231f20" stroke-width="0.45">WRITE TO US FOR EXPERT ADVICE</text>
<text class="ss" x="52.70" y="628.80" font-size="10.6" text-anchor="start" fill="#231f20" textLength="189.00" lengthAdjust="spacingAndGlyphs" stroke="#231f20" stroke-width="0.45">Write to us at etwealth@timesgroup.com</text>
<text class="ss" x="52.70" y="640.00" font-size="10.6" text-anchor="start" fill="#231f20" textLength="170.50" lengthAdjust="spacingAndGlyphs" stroke="#231f20" stroke-width="0.45">with ‘Family Finances’ as the subject.</text>
</svg>
</body>
</html>
